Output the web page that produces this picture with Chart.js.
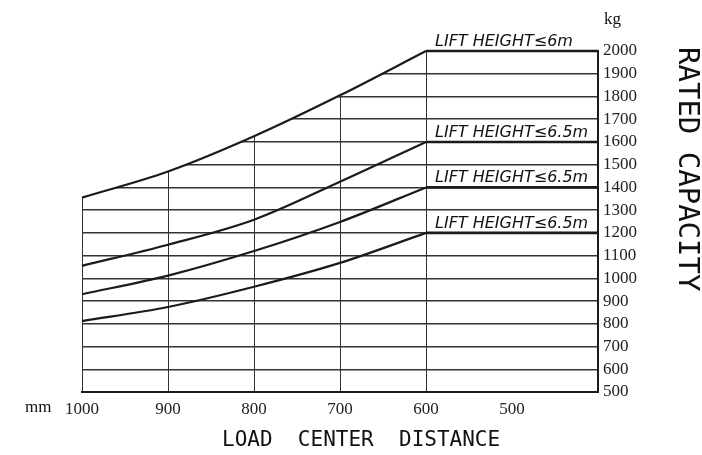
<!DOCTYPE html>
<html lang="en">
<head>
    <meta charset="UTF-8">
    <title>Rated Capacity vs Load Center Distance</title>
    <script src="https://cdn.jsdelivr.net/npm/chart.js"></script>
    <style>
        html, body { margin: 0; padding: 0; background: #ffffff; }
        .wrap { width: 702px; height: 455px; }
    </style>
</head>
<body>
<div class="wrap"><canvas id="capacityChart" width="702" height="455"></canvas></div>

<script>
    // Load center distance (mm), left to right
    const distances = [1000, 900, 800, 700, 600];
    // right end of the plateaus
    const plateauEnd = 400;

    // Rated capacity (kg) for each curve
    const cap6m = [1355, 1470, 1625, 1805, 2000];
    const cap65a = [1055, 1148, 1258, 1425, 1600];
    const cap65b = [930, 1012, 1120, 1248, 1400];
    const cap65c = [812, 874, 963, 1068, 1200];

    const curveLabels = ['LIFT HEIGHT≤6m', 'LIFT HEIGHT≤6.5m', 'LIFT HEIGHT≤6.5m', 'LIFT HEIGHT≤6.5m'];

    // axis ticks
    const xTicks = [1000, 900, 800, 700, 600, 500];
    const yMin = 500, yMax = 2000, yStep = 100;

    const curves = [cap6m, cap65a, cap65b, cap65c];
    const ink = '#1b1b1b';
    const gridInk = '#333333';

    const datasets = [];
    curves.forEach((vals, i) => {
        datasets.push({
            data: distances.map((d, j) => ({ x: d, y: vals[j] })),
            borderColor: ink,
            borderWidth: 2.2,
            pointRadius: 0,
            cubicInterpolationMode: 'monotone',
            // white out the grid above the top curve
            fill: i === 0 ? 'end' : false,
            backgroundColor: '#ffffff',
            clip: false
        });
        const last = vals[vals.length - 1];
        datasets.push({
            data: [{ x: distances[distances.length - 1], y: last }, { x: plateauEnd, y: last }],
            borderColor: ink,
            borderWidth: 2.6,
            pointRadius: 0,
            fill: false,
            clip: false
        });
    });

    // extra texts: units, curve labels, axis titles
    const textPlugin = {
        id: 'chartTexts',
        afterDraw(chart) {
            const ctx = chart.ctx;
            const xs = chart.scales.x, ys = chart.scales.y;
            ctx.save();
            ctx.fillStyle = '#111';

            // curve labels sitting on the plateaus
            ctx.font = 'italic 16px "DejaVu Sans"';
            ctx.textAlign = 'left';
            ctx.textBaseline = 'alphabetic';
            curves.forEach((vals, i) => {
                const y = ys.getPixelForValue(vals[vals.length - 1]);
                ctx.fillText(curveLabels[i], xs.getPixelForValue(600) + 9, y - 5);
            });

            // units
            ctx.font = '17px "Liberation Serif"';
            ctx.textBaseline = 'middle';
            ctx.fillText('kg', chart.chartArea.right + 6, 20);
            ctx.fillText('mm', 25, 408);

            // x title
            ctx.font = '21px "DejaVu Sans Mono"';
            ctx.textBaseline = 'middle';
            ctx.fillText('LOAD  CENTER  DISTANCE', 222, 441);

            // y title, rotated clockwise
            ctx.translate(687, 47);
            ctx.rotate(Math.PI / 2);
            ctx.font = '29px "DejaVu Sans Mono"';
            ctx.fillText('RATED CAPACITY', 0, 0);
            ctx.restore();
        }
    };

    const tickFont = { family: '"Liberation Serif"', size: 17 };

    new Chart(document.getElementById('capacityChart'), {
        type: 'line',
        data: { datasets: datasets },
        options: {
            responsive: false,
            animation: false,
            layout: { padding: { left: 82, top: 51, right: 0, bottom: 0 } },
            plugins: {
                legend: { display: false },
                tooltip: { enabled: false }
            },
            scales: {
                x: {
                    type: 'linear',
                    reverse: true,
                    min: plateauEnd,
                    max: 1000,
                    afterFit(scale) { scale.height = 63; },
                    afterBuildTicks(scale) {
                        scale.ticks = [plateauEnd].concat(xTicks).map(v => ({ value: v }));
                    },
                    ticks: {
                        autoSkip: false,
                        maxRotation: 0,
                        padding: 7,
                        color: '#222',
                        font: tickFont,
                        callback: v => (xTicks.includes(v) ? String(v) : '')
                    },
                    grid: {
                        drawTicks: false,
                        lineWidth: 1,
                        color: ctx => {
                            const v = ctx.tick && ctx.tick.value;
                            return (v === 500 || v === plateauEnd) ? 'rgba(0,0,0,0)' : gridInk;
                        }
                    },
                    border: { display: true, color: ink, width: 2 }
                },
                y: {
                    position: 'right',
                    min: yMin,
                    max: yMax,
                    afterFit(scale) { scale.width = 104; },
                    ticks: {
                        stepSize: yStep,
                        autoSkip: false,
                        padding: 5,
                        color: '#222',
                        font: tickFont,
                        callback: v => String(v)
                    },
                    grid: {
                        drawTicks: false,
                        lineWidth: 1.4,
                        color: ctx => (ctx.tick && ctx.tick.value === yMax) ? 'rgba(0,0,0,0)' : gridInk
                    },
                    border: { display: true, color: ink, width: 2 }
                }
            }
        },
        plugins: [textPlugin]
    });
</script>
</body>
</html>
